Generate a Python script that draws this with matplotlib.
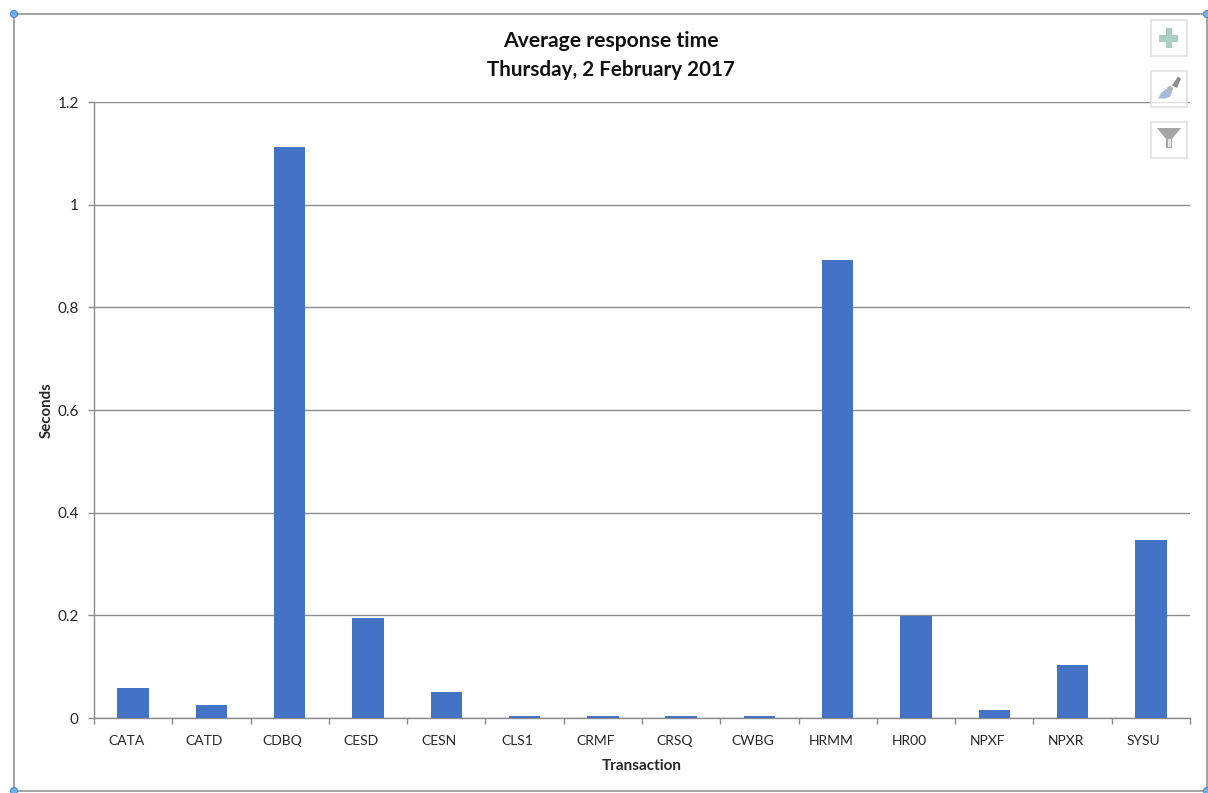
import numpy as np
import matplotlib
matplotlib.use('Agg')
import matplotlib.pyplot as plt
from matplotlib.patches import Rectangle, Polygon, Circle
from matplotlib.lines import Line2D
from matplotlib.transforms import ScaledTranslation

transactions = ['CATA', 'CATD', 'CDBQ', 'CESD', 'CESN', 'CLS1', 'CRMF',
                'CRSQ', 'CWBG', 'HRMM', 'HR00', 'NPXF', 'NPXR', 'SYSU']
seconds = [0.058, 0.025, 1.113, 0.195, 0.05, 0.003, 0.003,
           0.003, 0.003, 0.892, 0.198, 0.016, 0.104, 0.346]
y_ticks = [0, 0.2, 0.4, 0.6, 0.8, 1, 1.2]
y_labels = ['0', '0.2', '0.4', '0.6', '0.8', '1', '1.2']

plt.rcParams['font.family'] = ['Lato', 'DejaVu Sans']

W, H = 1208, 793
GREY = '#8c8c8c'
fig = plt.figure(figsize=(W/100, H/100), dpi=100, facecolor='white')

# plot area, pixel positions from the reference
ax = fig.add_axes([94/W, 1 - 718/H, (1190 - 94)/W, (718 - 102)/H])
x = np.arange(len(transactions))
ax.bar(x, seconds, width=0.4, color='#4472c4', zorder=3)
ax.set_xlim(-0.5, len(transactions) - 0.5)
ax.set_ylim(0, 1.2)
ax.set_yticks(y_ticks)
ax.set_yticklabels(y_labels, fontsize=11, color='#262626')
ax.set_xticks(x)
ax.set_xticklabels(transactions, fontsize=10, color='#262626')
ax.set_xticks(np.arange(-0.5, len(transactions)), minor=True)
ax.tick_params(axis='x', which='major', length=0, pad=12)
ax.tick_params(axis='x', which='minor', length=4, width=1, color=GREY)
ax.tick_params(axis='y', length=4, width=1, color=GREY, pad=7)
ax.grid(axis='y', color=GREY, linewidth=1, zorder=1)
ax.set_axisbelow(True)
for s in ['top', 'right']:
    ax.spines[s].set_visible(False)
for s in ['left', 'bottom']:
    ax.spines[s].set_color(GREY)
    ax.spines[s].set_linewidth(1)

# category labels sit a little left of their bars in the reference
shift = ScaledTranslation(-7/100, 0, fig.dpi_scale_trans)
for lab in ax.get_xticklabels():
    lab.set_transform(lab.get_transform() + shift)

fig.text(47/W, 1 - 410/H, 'Seconds', rotation=90, ha='center', va='center',
         fontsize=10.8, fontweight='bold', color='#262626')
fig.text(642/W, 1 - 765.5/H, 'Transaction', ha='center', va='center',
         fontsize=11, fontweight='bold', color='#262626')
fig.text(610.5/W, 1 - 41/H, 'Average response time', ha='center', va='center',
         fontsize=15.2, fontweight='bold', color='#111111')
fig.text(610.5/W, 1 - 69.5/H, 'Thursday, 2 February 2017', ha='center', va='center',
         fontsize=14.9, fontweight='bold', color='#111111')

# overlay in pixel coords for the selection frame and the Excel buttons
ov = fig.add_axes([0, 0, 1, 1], facecolor='none')
ov.set_xlim(0, W)
ov.set_ylim(H, 0)
ov.axis('off')

frame = '#a3a3a3'
ov.add_line(Line2D([14, 1207], [14, 14], color=frame, lw=1.4))
ov.add_line(Line2D([14, 14], [14, 791], color=frame, lw=1.4))
ov.add_line(Line2D([1207, 1207], [14, 791], color=frame, lw=1.4))
ov.add_line(Line2D([14, 1207], [791, 791], color=frame, lw=1.4))
for cx, cy in [(14, 14), (1207, 14), (14, 791), (1207, 791)]:
    ov.add_patch(Circle((cx, cy), 3.5, fc='#6fb1ec', ec='#3f8fdc', lw=0.8, zorder=5))

for top in [19.5, 70.5, 121.5]:
    ov.add_patch(Rectangle((1151, top), 36, 36, fc='white', alpha=0.75,
                           ec='#dedede', lw=1.4, zorder=5))

# plus
ov.add_patch(Rectangle((1159, 35), 19, 7, fc='#a9cfc0', ec='none', zorder=6))
ov.add_patch(Rectangle((1165.5, 28), 6.5, 20, fc='#a9cfc0', ec='none', zorder=6))
# brush
ov.add_patch(Polygon([[1178, 76.5], [1181, 78.5], [1177, 88], [1172, 85.5]],
                     fc='#8f8f8f', ec='none', zorder=6))
ov.add_patch(Circle((1170, 89), 3, fc='#b5b5b5', ec='none', zorder=6))
ov.add_patch(Polygon([[1158, 98.5], [1161, 93], [1166, 89], [1172, 92], [1170, 97], [1165, 98.5]],
                     fc='#a6bcdd', ec='none', zorder=6))
# funnel
ov.add_patch(Polygon([[1157, 128], [1181, 128], [1172, 139], [1172, 148], [1166, 148], [1166, 139]],
                     fc='#a6a6a6', ec='none', zorder=6))
ov.add_patch(Polygon([[1167.5, 139], [1170.5, 139], [1170.5, 147], [1167.5, 147]],
                     fc='#e4e4e4', ec='none', zorder=7))

fig.savefig('out.png', dpi=100, facecolor='white')
